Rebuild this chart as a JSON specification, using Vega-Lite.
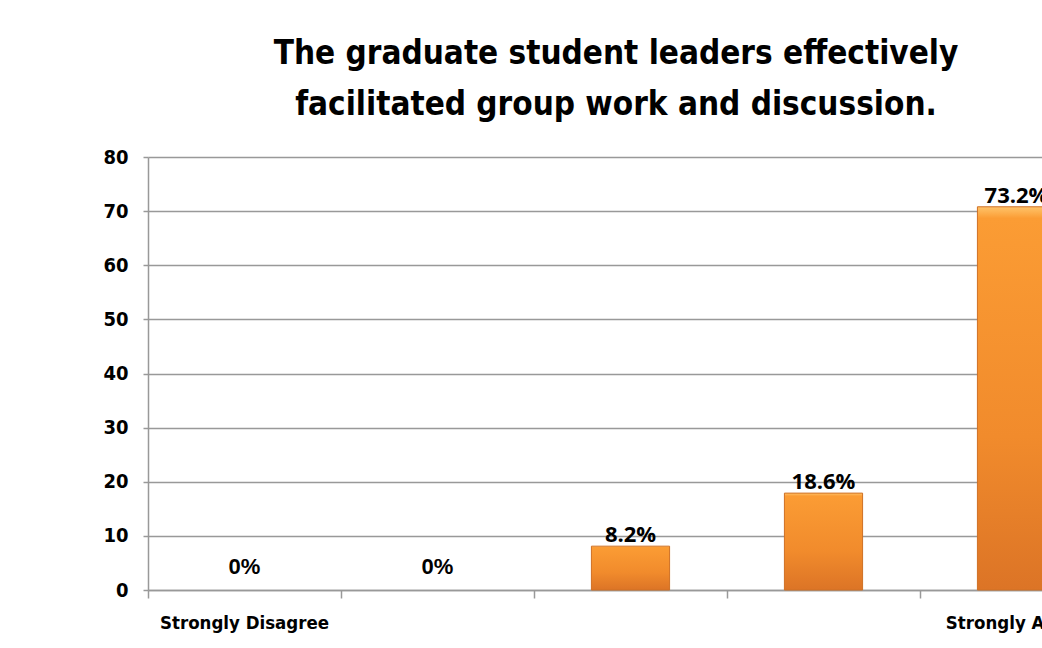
{
  "$schema": "https://vega.github.io/schema/vega-lite/v6.json",
  "width": 894,
  "height": 433,
  "autosize": {"type": "none"},
  "padding": {"left": 148, "top": 157, "right": 0, "bottom": 58},
  "background": "white",
  "config": {"view": {"stroke": null}},
  "title": {
    "text": ["The graduate student leaders effectively", "facilitated group work and discussion."],
    "font": "DejaVu Sans Condensed",
    "fontSize": 33,
    "fontWeight": "bold",
    "color": "black",
    "lineHeight": 51,
    "anchor": "middle",
    "dx": 21,
    "offset": 25
  },
  "data": {
    "values": [
      {"response": "Strongly Disagree", "value": 0, "label": "0%"},
      {"response": "Disagree", "value": 0, "label": "0%"},
      {"response": "Neutral", "value": 8.1, "label": "8.2%"},
      {"response": "Agree", "value": 17.9, "label": "18.6%"},
      {"response": "Strongly Agree", "value": 70.8, "label": "73.2%"}
    ]
  },
  "encoding": {
    "x": {
      "field": "response",
      "type": "nominal",
      "sort": null,
      "scale": {
        "domain": ["Strongly Disagree", "Disagree", "Neutral", "Agree", "Strongly Agree"],
        "range": [0, 965],
        "paddingInner": 0,
        "paddingOuter": 0
      },
      "axis": {
        "title": null,
        "labelAngle": 0,
        "domainColor": "#999999",
        "domainWidth": 1.5,
        "tickColor": "#999999",
        "tickWidth": 1.5,
        "tickSize": 8,
        "bandPosition": 0,
        "labelFont": "DejaVu Sans Condensed",
        "labelFontSize": 18.5,
        "labelFontWeight": "bold",
        "labelColor": "black",
        "labelPadding": 15,
        "labelOverlap": false,
        "labelBound": false,
        "labelExpr": "datum.value == 'Strongly Disagree' || datum.value == 'Strongly Agree' ? datum.label : ''"
      }
    },
    "y": {
      "field": "value",
      "type": "quantitative",
      "scale": {"domain": [0, 80], "nice": false},
      "axis": {
        "title": null,
        "values": [0, 10, 20, 30, 40, 50, 60, 70, 80],
        "grid": true,
        "gridColor": "#999999",
        "gridWidth": 1.5,
        "domainColor": "#999999",
        "domainWidth": 1.5,
        "tickColor": "#999999",
        "tickWidth": 1.5,
        "tickSize": 5,
        "labelPadding": 15,
        "labelFont": "DejaVu Sans Condensed",
        "labelFontSize": 20,
        "labelFontWeight": "bold",
        "labelColor": "black"
      }
    }
  },
  "layer": [
    {
      "transform": [{"filter": "datum.value > 0"}],
      "mark": {
        "type": "bar",
        "width": {"band": 0.405},
        "color": {
          "gradient": "linear",
          "x1": 0, "y1": 0, "x2": 0, "y2": 1,
          "stops": [
            {"offset": 0, "color": "#ffc46a"},
            {"offset": 0.03, "color": "#fb9c34"},
            {"offset": 0.6, "color": "#f18b2c"},
            {"offset": 1, "color": "#dc7426"}
          ]
        },
        "stroke": "#cf7024",
        "strokeWidth": 1
      }
    },
    {
      "transform": [{"filter": "datum.value > 0"}],
      "mark": {
        "type": "text",
        "font": "Open Sans",
        "fontWeight": "bold",
        "fontSize": 22,
        "baseline": "alphabetic",
        "dy": -4,
        "color": "black"
      },
      "encoding": {"text": {"field": "label"}}
    },
    {
      "transform": [{"filter": "datum.value == 0"}],
      "mark": {
        "type": "text",
        "font": "Liberation Sans",
        "fontWeight": "bold",
        "fontSize": 22,
        "baseline": "alphabetic",
        "dy": -16,
        "color": "black"
      },
      "encoding": {"text": {"field": "label"}}
    }
  ]
}
